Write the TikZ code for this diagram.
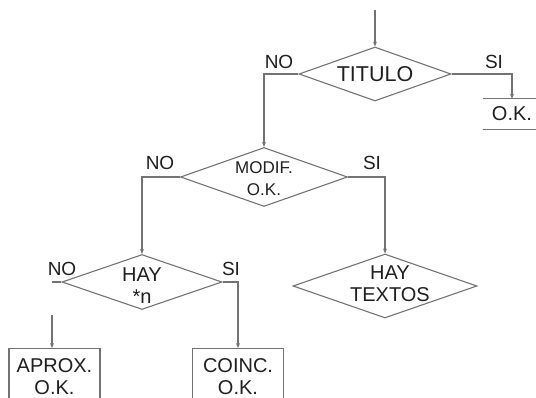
\documentclass[tikz,border=0pt]{standalone}
\usepackage{fontspec}
\setmainfont{Liberation Sans}
\usetikzlibrary{shapes.geometric,arrows.meta}
\begin{document}
\begin{tikzpicture}[x=1pt,y=-1pt,
  line/.style={draw=black!55,line width=1.1pt},
  arr/.style={line,-{Stealth[length=5pt,width=4pt]}},
  dia/.style={shape=diamond,line,inner sep=0pt},
  txt/.style={text=black!88,align=center,inner sep=0pt,font=\fontsize{20}{22}\selectfont},
  lbl/.style={text=black!88,inner sep=0pt,font=\fontsize{19}{20}\selectfont},
  boxn/.style={line,minimum width=91pt,minimum height=56pt,anchor=north,inner sep=0pt,
     text=black!88,align=center,font=\fontsize{20}{22}\selectfont}]
\useasboundingbox (0,0) rectangle (536,398);
% diamonds
\node[dia,minimum width=152pt,minimum height=54pt] (tit) at (375,74) {};
\node[txt,font=\fontsize{21.5}{24}\selectfont] (tittxt) at (tit) {TITULO};
\node[dia,minimum width=167pt,minimum height=59pt] (mod) at (264,177) {};
\node[txt,font=\fontsize{17}{22}\selectfont] (modtxt) at (264,179) {MODIF.\\O.K.};
\node[dia,minimum width=160pt,minimum height=55pt] (hay1) at (142,282) {};
\node[txt] (hay1txt) at (142,286) {HAY\\*n};
\node[dia,minimum width=184pt,minimum height=64pt] (hay2) at (385,286) {};
\node[txt] (hay2txt) at (390,284) {HAY\\TEXTOS};
% boxes
\node[txt,minimum width=58pt,minimum height=30pt] (ok1) at (512,114) {O.K.};
\draw[line] (ok1.north west) -- (ok1.north east) (ok1.south west) -- (ok1.south east);
\node[boxn] (aprox) at (54.5,348) {APROX.\\O.K.};
\node[boxn] (coinc) at (238,348) {COINC.\\O.K.};
% connectors
\coordinate (start) at (375,10);
\draw[arr] (start) -- (tit.north);
\draw[arr] (tit.west) -| (mod.north);
\draw[arr] (tit.east) -| (ok1.north);
\draw[arr] (mod.west) -| (hay1.north);
\draw[arr] (mod.east) -| (hay2.north);
\coordinate (nostub) at (52,282);
\draw[line] (hay1.west) -- (nostub);
\coordinate (aprx) at (52,315);
\draw[arr] (aprx) -- (aprx |- aprox.north);
\draw[arr] (hay1.east) -| (coinc.north);
% labels
\node[lbl] (l1) at (279,62) {NO};
\node[lbl] (l2) at (494,62) {SI};
\node[lbl] (l3) at (160,163) {NO};
\node[lbl] (l4) at (372,163) {SI};
\node[lbl] (l5) at (62,269) {NO};
\node[lbl] (l6) at (231,269) {SI};
\end{tikzpicture}
\end{document}
